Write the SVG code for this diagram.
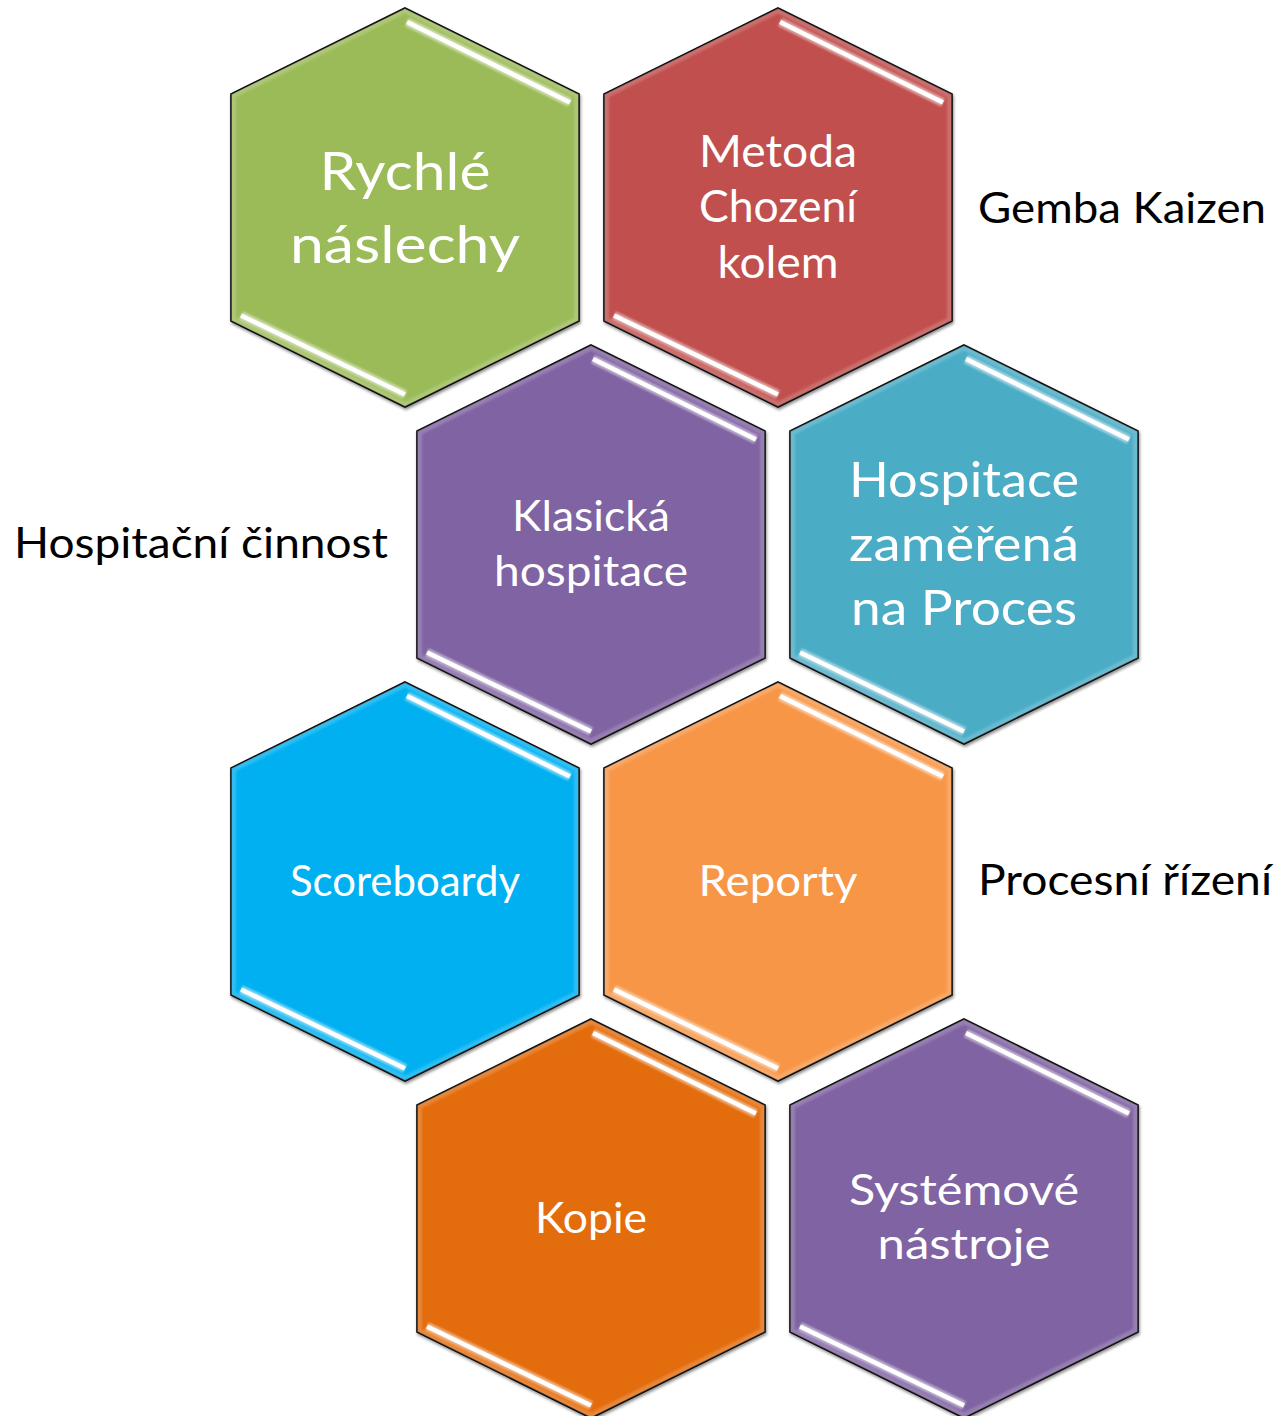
<svg xmlns="http://www.w3.org/2000/svg" xmlns:xlink="http://www.w3.org/1999/xlink" width="1279" height="1416" viewBox="0 0 1279 1416">
<defs>
<polygon id="hex" points="0,-199.5 174,-113.5 174,113.5 0,199.5 -174,113.5 -174,-113.5"/>
<clipPath id="hexclip"><use xlink:href="#hex"/></clipPath>
<filter id="shadow" x="-10%" y="-10%" width="120%" height="120%">
<feDropShadow dx="1" dy="2" stdDeviation="1.5" flood-color="#000" flood-opacity="0.45"/>
</filter>
<filter id="soft" x="-20%" y="-20%" width="140%" height="140%">
<feGaussianBlur stdDeviation="1.2"/>
</filter>
<g id="gloss">
<g clip-path="url(#hexclip)">
<use xlink:href="#hex" fill="none" stroke="#fff" stroke-opacity="0.18" stroke-width="10" filter="url(#soft)"/>
</g>
<g stroke-linecap="butt">
<line x1="2" y1="-185.5" x2="165" y2="-105" stroke="#fff" stroke-opacity="0.5" stroke-width="9" filter="url(#soft)"/>
<line x1="2" y1="-185.5" x2="165" y2="-105" stroke="#fff" stroke-width="4.5"/>
<line x1="-164" y1="108" x2="0" y2="187" stroke="#fff" stroke-opacity="0.5" stroke-width="9" filter="url(#soft)"/>
<line x1="-164" y1="108" x2="0" y2="187" stroke="#fff" stroke-width="4.5"/>
</g>
</g>
</defs>
<style>
.hx{stroke:#000;stroke-width:1.6;filter:url(#shadow)}
.t{font-family:Lato,"Liberation Sans",sans-serif;fill:#fff;text-anchor:middle}
.s{font-family:Lato,"Liberation Sans",sans-serif;fill:#000;font-size:42px}
</style>
<g id="connectors"/>

<g id="node-rychle" transform="translate(405,207.5)">
<use xlink:href="#hex" class="hx" fill="#9BBB59"/>
<use xlink:href="#gloss"/>
<text class="t" font-size="53" y="-17.5" textLength="171" lengthAdjust="spacingAndGlyphs">Rychlé</text>
<text class="t" font-size="53" y="55.5" textLength="230" lengthAdjust="spacingAndGlyphs">náslechy</text>
</g>

<g id="node-metoda" transform="translate(778,207.5)">
<use xlink:href="#hex" class="hx" fill="#C0504D"/>
<use xlink:href="#gloss"/>
<text class="t" font-size="44" y="-40.5" textLength="158" lengthAdjust="spacingAndGlyphs">Metoda</text>
<text class="t" font-size="44" y="14.5" textLength="158" lengthAdjust="spacingAndGlyphs">Chození</text>
<text class="t" font-size="44" y="70.5" textLength="121" lengthAdjust="spacingAndGlyphs">kolem</text>
</g>

<g id="node-klasicka" transform="translate(591,544.5)">
<use xlink:href="#hex" class="hx" fill="#8064A2"/>
<use xlink:href="#gloss"/>
<text class="t" font-size="42" y="-13.5" textLength="158" lengthAdjust="spacingAndGlyphs">Klasická</text>
<text class="t" font-size="42" y="41.5" textLength="194" lengthAdjust="spacingAndGlyphs">hospitace</text>
</g>

<g id="node-hospitace-proces" transform="translate(964,544.5)">
<use xlink:href="#hex" class="hx" fill="#4BACC6"/>
<use xlink:href="#gloss"/>
<text class="t" font-size="49" y="-47.5" textLength="230" lengthAdjust="spacingAndGlyphs">Hospitace</text>
<text class="t" font-size="49" y="16.5" textLength="230" lengthAdjust="spacingAndGlyphs">zaměřená</text>
<text class="t" font-size="49" y="80.5" textLength="226" lengthAdjust="spacingAndGlyphs">na Proces</text>
</g>

<g id="node-scoreboardy" transform="translate(405,881.5)">
<use xlink:href="#hex" class="hx" fill="#00B0F0"/>
<use xlink:href="#gloss"/>
<text class="t" font-size="42" y="14.5" textLength="230" lengthAdjust="spacingAndGlyphs">Scoreboardy</text>
</g>

<g id="node-reporty" transform="translate(778,881.5)">
<use xlink:href="#hex" class="hx" fill="#F79646"/>
<use xlink:href="#gloss"/>
<text class="t" font-size="42" y="14.5" textLength="159" lengthAdjust="spacingAndGlyphs">Reporty</text>
</g>

<g id="node-kopie" transform="translate(591,1218.5)">
<use xlink:href="#hex" class="hx" fill="#E36C09"/>
<use xlink:href="#gloss"/>
<text class="t" font-size="42" y="14" textLength="112" lengthAdjust="spacingAndGlyphs">Kopie</text>
</g>

<g id="node-systemove" transform="translate(964,1218.5)">
<use xlink:href="#hex" class="hx" fill="#8064A2"/>
<use xlink:href="#gloss"/>
<text class="t" font-size="42" y="-14" textLength="230" lengthAdjust="spacingAndGlyphs">Systémové</text>
<text class="t" font-size="42" y="40.5" textLength="173" lengthAdjust="spacingAndGlyphs">nástroje</text>
</g>

<g id="label-gemba"><text class="s" x="978" y="223" textLength="288" lengthAdjust="spacingAndGlyphs">Gemba Kaizen</text></g>
<g id="label-hospitacni"><text class="s" x="14" y="558" textLength="374" lengthAdjust="spacingAndGlyphs">Hospitační činnost</text></g>
<g id="label-procesni"><text class="s" x="978" y="895" textLength="294" lengthAdjust="spacingAndGlyphs">Procesní řízení</text></g>
</svg>
